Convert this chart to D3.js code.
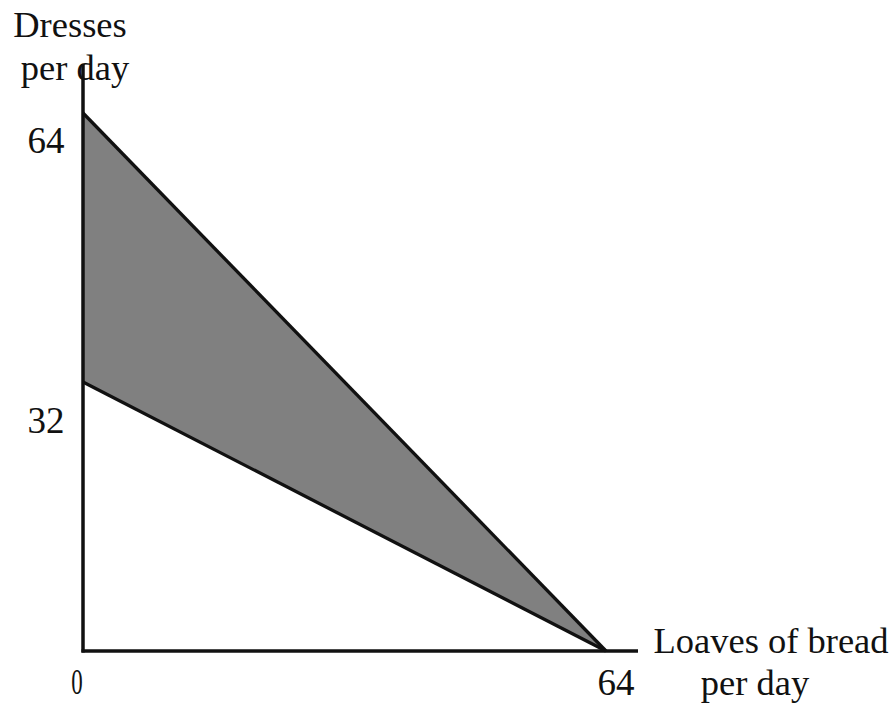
<!DOCTYPE html>
<html>
<head>
<meta charset="utf-8">
<script src="https://d3js.org/d3.v7.min.js"></script>
<style>
  body { margin: 0; background: #fff; }
  svg text { font-family: "Liberation Serif", "Times New Roman", serif; fill: #111; }
</style>
</head>
<body>
<div id="chart"></div>
<script>
width = 893;
height = 703;

margin = { top: 113, right: 287, bottom: 52, left: 83 };

//////// Data ////////
const xTicks = [0, 64];
const yTicks = [32, 64];
const upperLine = [{ bread: 0, dresses: 64 }, { bread: 64, dresses: 0 }];
const lowerLine = [{ bread: 0, dresses: 32 }, { bread: 64, dresses: 0 }];
const yTitle = ["Dresses", "per day"];
const xTitle = ["Loaves of bread", "per day"];

//////// Scales ////////
const xScale = d3.scaleLinear()
    .domain([0, 64])
    .range([margin.left, 606]);

const yScale = d3.scaleLinear()
    .domain([0, 64])
    .range([height - margin.bottom, margin.top]);

const svg = d3.select('#chart')
    .append('svg')
    .attr('width', width)
    .attr('height', height);

// shaded area between the two lines
const band = upperLine.map((d, i) => ({ bread: d.bread, hi: d.dresses, lo: lowerLine[i].dresses }));
const area = d3.area()
    .x(d => xScale(d.bread))
    .y0(d => yScale(d.lo))
    .y1(d => yScale(d.hi));

svg.append('path')
    .datum(band)
    .attr('d', area)
    .attr('fill', '#808080');

const line = d3.line()
    .x(d => xScale(d.bread))
    .y(d => yScale(d.dresses));

[upperLine, lowerLine].forEach(l => {
    svg.append('path')
        .datum(l)
        .attr('d', line)
        .attr('fill', 'none')
        .attr('stroke', '#111')
        .attr('stroke-width', 3.3);
});

// axes (plain lines, no ticks)
svg.append('line')
    .attr('x1', xScale(0)).attr('x2', xScale(0))
    .attr('y1', 64).attr('y2', yScale(0) + 1.5)
    .attr('stroke', '#111').attr('stroke-width', 3.5);

svg.append('line')
    .attr('x1', xScale(0) - 1.5).attr('x2', 638)
    .attr('y1', yScale(0)).attr('y2', yScale(0))
    .attr('stroke', '#111').attr('stroke-width', 3.5);

// y tick labels (set a little below the intercepts, like the source)
svg.selectAll('text.ytick')
    .data(yTicks)
    .join('text')
    .attr('class', 'ytick')
    .attr('x', 46)
    .attr('y', d => yScale(d) + (d == 64 ? 40 : 51))
    .attr('text-anchor', 'middle')
    .style('font-size', '37px')
    .text(d => d);

// x tick labels
svg.selectAll('text.xtick')
    .data(xTicks)
    .join('text')
    .attr('class', 'xtick')
    .attr('transform', d => d == 0
        ? `translate(${xScale(d) - 6},694) scale(0.62,0.95)`
        : `translate(${xScale(d) + 10},695)`)
    .attr('text-anchor', 'middle')
    .style('font-size', '37px')
    .text(d => d);

// axis titles
svg.append('text')
    .attr('x', 70).attr('y', 37)
    .attr('text-anchor', 'middle')
    .style('font-size', '36.5px')
    .text(yTitle[0]);
svg.append('text')
    .attr('x', 75).attr('y', 80)
    .attr('text-anchor', 'middle')
    .style('font-size', '36.5px')
    .text(yTitle[1]);

svg.append('text')
    .attr('x', 771).attr('y', 653)
    .attr('text-anchor', 'middle')
    .style('font-size', '36.5px')
    .text(xTitle[0]);
svg.append('text')
    .attr('x', 755).attr('y', 695)
    .attr('text-anchor', 'middle')
    .style('font-size', '36.5px')
    .text(xTitle[1]);
</script>
</body>
</html>
